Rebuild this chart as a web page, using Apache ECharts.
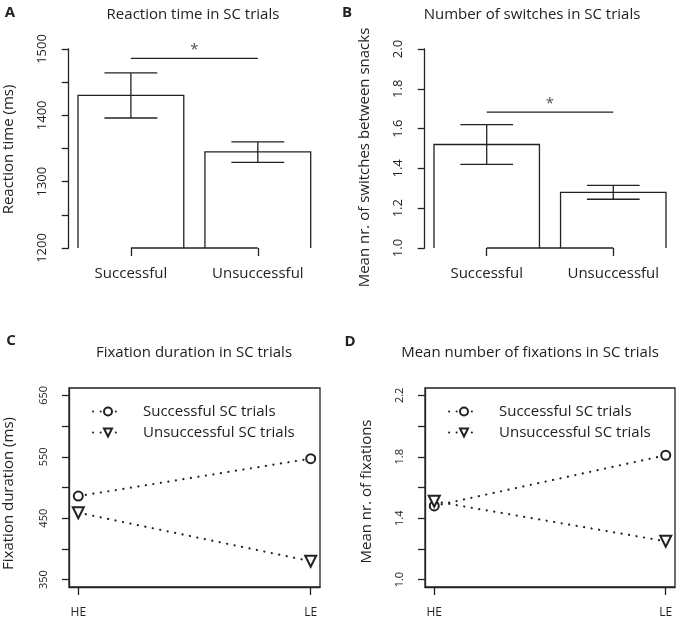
<!DOCTYPE html>
<html>
<head>
<meta charset="utf-8">
<script src="https://cdn.jsdelivr.net/npm/echarts@6/dist/echarts.min.js"></script>
<style>
  html, body { margin: 0; padding: 0; background: #fff; }
  #chart { width: 680px; height: 628px; }
</style>
</head>
<body>
<div id="chart"></div>
<script>
// bar panels (A, B)
const barCats = ['Successful', 'Unsuccessful'];
const rtMean = [1430, 1345];
const rtLow = [1396, 1329];
const rtHigh = [1464, 1360];
const rtSig = 1486;
const rtTicks = [1200, 1250, 1300, 1350, 1400, 1450, 1500];
const rtLabels = [1200, 1300, 1400, 1500];

const swMean = [1.52, 1.28];
const swLow = [1.42, 1.245];
const swHigh = [1.62, 1.315];
const swSig = 1.683;
const swTicks = [1.0, 1.2, 1.4, 1.6, 1.8, 2.0];

// line panels (C, D)
const levels = ['HE', 'LE'];
const seriesNames = ['Successful SC trials', 'Unsuccessful SC trials'];
const durSucc = [486, 547];
const durUnsucc = [459, 380];
const durTicks = [350, 400, 450, 500, 550, 600, 650];
const durLabels = [350, 450, 550, 650];
const numSucc = [1.48, 1.81];
const numUnsucc = [1.51, 1.25];
const numTicks = [1.0, 1.2, 1.4, 1.6, 1.8, 2.0, 2.2];
const numLabels = [1.0, 1.4, 1.8, 2.2];

const ink = '#222';
const font = '"Open Sans", "Noto Sans", sans-serif';
const lw = 1.3;

// R barplot layout: width 1, space 0.2
const barPos = i => 0.7 + 1.2 * i;

const chart = echarts.init(document.getElementById('chart'));

function barItem(params, api) {
    const cs = params.coordSys;
    const bottom = cs.y + cs.height;
    const c = api.value(0);
    const tl = api.coord([c - 0.5, api.value(1)]);
    const tr = api.coord([c + 0.5, api.value(1)]);
    const lo = api.coord([c, api.value(2)]);
    const hi = api.coord([c, api.value(3)]);
    const cap = api.coord([c + 0.25, api.value(2)])[0] - lo[0];
    const st = { stroke: ink, lineWidth: lw, fill: null };
    return {
        type: 'group',
        children: [
            { type: 'polyline', shape: { points: [[tl[0], bottom], tl, tr, [tr[0], bottom]] }, style: st },
            { type: 'line', shape: { x1: lo[0], y1: lo[1], x2: hi[0], y2: hi[1] }, style: st },
            { type: 'line', shape: { x1: lo[0] - cap, y1: lo[1], x2: lo[0] + cap, y2: lo[1] }, style: st },
            { type: 'line', shape: { x1: hi[0] - cap, y1: hi[1], x2: hi[0] + cap, y2: hi[1] }, style: st }
        ]
    };
}

function barXAxis(gi) {
    return {
        gridIndex: gi, type: 'value', min: 0.112, max: 2.488,
        axisLine: { show: false },
        splitLine: { show: false },
        axisTick: { customValues: barCats.map((c, i) => barPos(i)), length: 8, lineStyle: { color: ink, width: lw } },
        axisLabel: {
            customValues: barCats.map((c, i) => barPos(i)),
            formatter: v => barCats[Math.round((v - 0.7) / 1.2)],
            color: ink, fontSize: 15, fontFamily: font, margin: 18
        }
    };
}

function lineXAxis(gi) {
    return {
        gridIndex: gi, type: 'value', min: 0.96, max: 2.04,
        axisLine: { show: true, lineStyle: { color: ink, width: lw } },
        splitLine: { show: false },
        axisTick: { customValues: [1, 2], length: 8, lineStyle: { color: ink, width: lw } },
        axisLabel: {
            customValues: [1, 2],
            formatter: v => levels[Math.round(v) - 1],
            color: ink, fontSize: 12, fontFamily: font, margin: 20
        }
    };
}

function yAxis(gi, min, max, ticks, labels, digits, name, fs, gap, shift) {
    return {
        gridIndex: gi, type: 'value', min: min, max: max,
        axisLine: { show: true, lineStyle: { color: ink, width: lw } },
        splitLine: { show: false },
        axisTick: { customValues: ticks, length: 7, lineStyle: { color: ink, width: lw } },
        axisLabel: {
            customValues: labels, rotate: 90, color: ink, fontSize: fs, fontFamily: font, margin: 20,
            formatter: v => v.toFixed(digits)
        },
        name: name, nameLocation: 'middle', nameRotate: 90, nameGap: gap,
        // right padding of the rotated name moves it down the page
        nameTextStyle: { color: ink, fontSize: 15, fontFamily: font, padding: [0, shift * 2, 0, 0] }
    };
}

function barSeries(gi, mean, low, high, sig, ymin) {
    return [
        {
            type: 'custom', xAxisIndex: gi, yAxisIndex: gi, renderItem: barItem, clip: false,
            data: barCats.map((c, i) => [barPos(i), mean[i], low[i], high[i]])
        },
        {
            type: 'line', xAxisIndex: gi, yAxisIndex: gi, symbol: 'none', clip: false,
            lineStyle: { color: ink, width: lw },
            data: [[barPos(0), ymin], [barPos(1), ymin]]
        },
        {
            type: 'line', xAxisIndex: gi, yAxisIndex: gi, symbol: 'none', clip: false,
            lineStyle: { color: ink, width: lw },
            data: [[barPos(0), sig], [barPos(1), sig]]
        },
        {
            type: 'scatter', xAxisIndex: gi, yAxisIndex: gi, symbolSize: 0, clip: false,
            label: { show: true, formatter: '*', position: 'top', distance: 1, color: ink, fontSize: 15, fontFamily: font },
            data: [[(barPos(0) + barPos(1)) / 2, sig]]
        }
    ];
}

function lineSeries(gi, succ, unsucc) {
    const common = {
        type: 'line', xAxisIndex: gi, yAxisIndex: gi, clip: false, showSymbol: true,
        lineStyle: { color: ink, width: 2.2, type: [0.1, 7.5], cap: 'round' },
        itemStyle: { color: ink, borderColor: ink, borderWidth: 2.2 }
    };
    return [
        Object.assign({}, common, {
            name: seriesNames[0], symbol: 'emptyCircle', symbolSize: 9,
            data: levels.map((l, i) => [i + 1, succ[i]])
        }),
        Object.assign({}, common, {
            name: seriesNames[1], symbol: 'emptyTriangle', symbolSize: 11, symbolRotate: 180,
            data: levels.map((l, i) => [i + 1, unsucc[i]])
        })
    ];
}

function legend(left) {
    return {
        left: left, top: 404, orient: 'vertical', padding: 0,
        itemWidth: 30, itemHeight: 10, itemGap: 6,
        data: seriesNames,
        textStyle: { color: ink, fontSize: 15, fontFamily: font, padding: [0, 0, 0, 15] }
    };
}

function text(x, y, str, size, weight, rot) {
    return {
        type: 'text', x: x, y: y, rotation: rot || 0,
        style: {
            text: str, fill: ink, font: (weight || 'normal') + ' ' + size + 'px ' + font,
            textAlign: 'center', textVerticalAlign: 'middle'
        }
    };
}

const option = {
    animation: false,
    backgroundColor: '#fff',
    grid: [
        { left: 68.7, top: 49, width: 251.3, height: 199 },
        { left: 424.7, top: 49, width: 250.6, height: 199 },
        { left: 69, top: 388, width: 251, height: 199, show: true, borderColor: ink, borderWidth: lw },
        { left: 425, top: 388, width: 250, height: 199, show: true, borderColor: ink, borderWidth: lw }
    ],
    xAxis: [barXAxis(0), barXAxis(1), lineXAxis(2), lineXAxis(3)],
    yAxis: [
        yAxis(0, 1200, 1500, rtTicks, rtLabels, 0, 'Reaction time (ms)', 13, 52, 1),
        yAxis(1, 1.0, 2.0, swTicks, swTicks, 1, 'Mean nr. of switches between snacks', 13, 52, 9),
        yAxis(2, 338, 662, durTicks, durLabels, 0, 'Fixation duration (ms)', 11, 53, 6),
        yAxis(3, 0.952, 2.248, numTicks, numLabels, 1, 'Mean nr. of fixations', 11, 51, 4)
    ],
    legend: [legend(92), legend(448)],
    graphic: [
        text(10, 13, 'A', 15, 'bold'),
        text(347, 13, 'B', 15, 'bold'),
        text(11, 341, 'C', 15, 'bold'),
        text(350, 342, 'D', 15, 'bold'),
        text(193, 15, 'Reaction time in SC trials', 15),
        text(532, 15, 'Number of switches in SC trials', 15),
        text(194, 353, 'Fixation duration in SC trials', 15),
        text(530, 353, 'Mean number of fixations in SC trials', 15)
    ],
    series: [].concat(
        barSeries(0, rtMean, rtLow, rtHigh, rtSig, 1200),
        barSeries(1, swMean, swLow, swHigh, swSig, 1.0),
        lineSeries(2, durSucc, durUnsucc),
        lineSeries(3, numSucc, numUnsucc)
    )
};

chart.setOption(option);
</script>
</body>
</html>
